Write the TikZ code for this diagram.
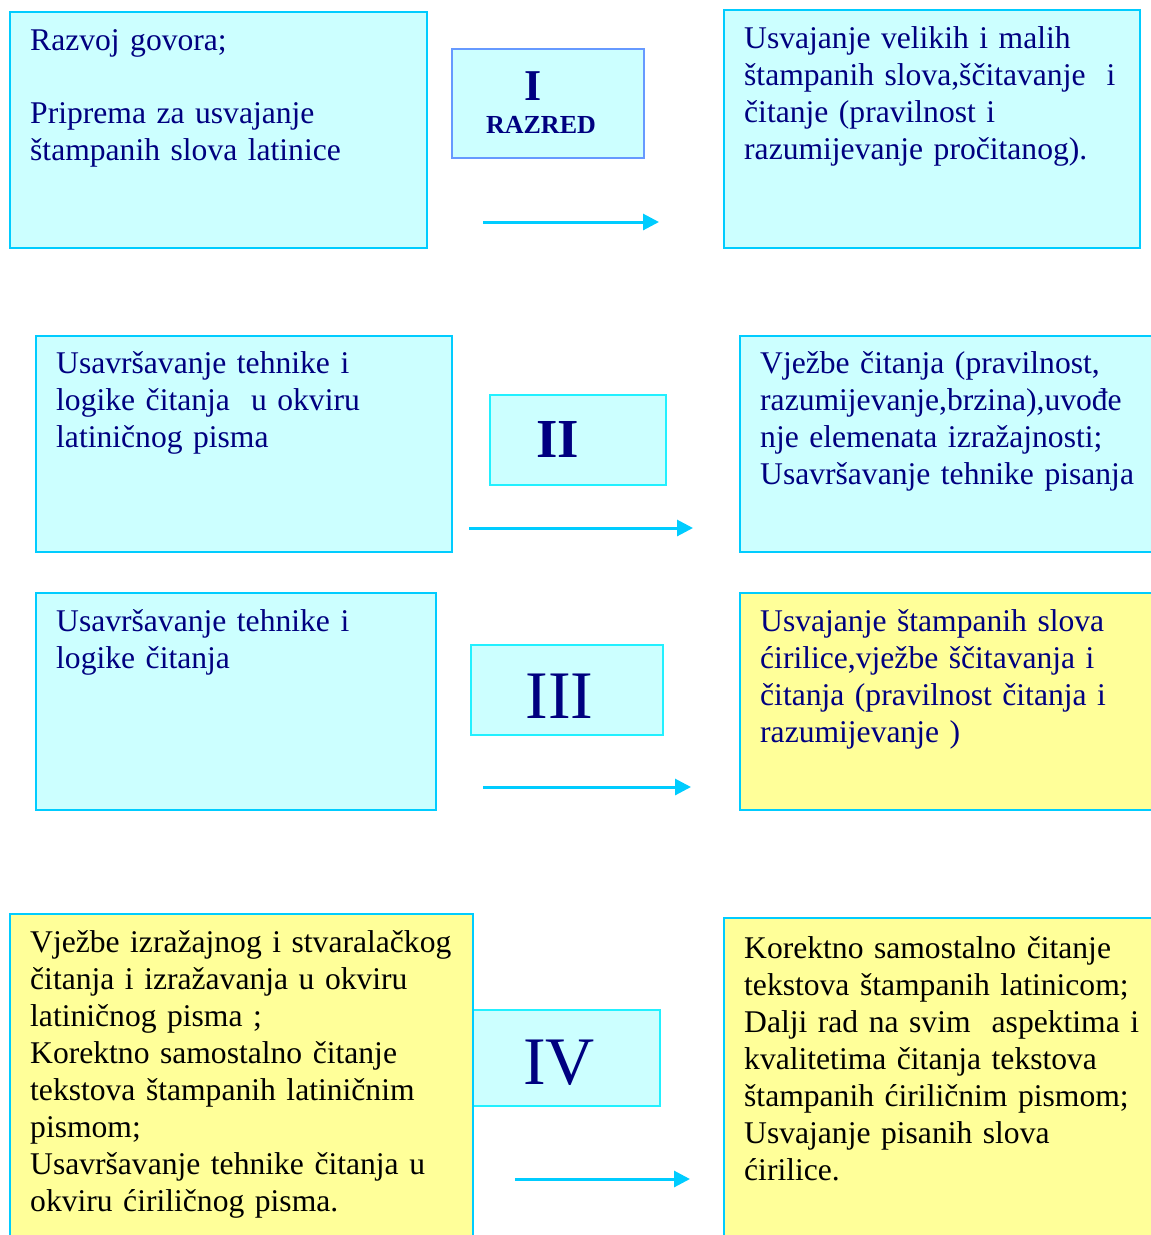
\documentclass[tikz,border=0pt]{standalone}
\usepackage{fontspec}
\setmainfont{Liberation Serif}
\usetikzlibrary{arrows.meta}
\definecolor{boxfill}{HTML}{CCFFFF}
\definecolor{yelfill}{HTML}{FFFF99}
\definecolor{bordc}{HTML}{00CCFF}
\definecolor{labbord}{HTML}{22F0FF}
\definecolor{ibord}{HTML}{6699FF}
\definecolor{navy}{HTML}{000080}
\definecolor{arrc}{HTML}{00CCFF}
\newcommand{\mystrut}{\rule{0pt}{26pt}}
\begin{document}
\begin{tikzpicture}[x=1pt,y=-1pt,
  bigbox/.style={draw=bordc, line width=2pt, inner sep=0pt, anchor=north west},
  cyanbox/.style={bigbox, fill=boxfill},
  yelbox/.style={bigbox, fill=yelfill},
  labbox/.style={draw=labbord, fill=boxfill, line width=2pt, inner sep=0pt, anchor=north west},
  body/.style={anchor=north west, inner sep=0pt, text width=440pt, align=left,
    font=\fontsize{31.6pt}{37pt}\selectfont},
  bignum/.style={anchor=base, inner sep=0pt, text=navy},
  arr/.style={draw=arrc, line width=3pt, -{Triangle[length=16pt,width=16pt]}}
]
\useasboundingbox (0,0) rectangle (1151,1235);
\clip (0,0) rectangle (1151,1235);

% Row I
\node[cyanbox, minimum width=417pt, minimum height=236pt] (b1) at (9,11) {};
\node[body, text=navy] (t1) at (30,24) {\mystrut Razvoj govora;\\[36pt]
Priprema za usvajanje\\
štampanih slova latinice};
\node[labbox, draw=ibord, minimum width=192pt, minimum height=109pt] (l1) at (451,48) {};
\node[bignum, font=\bfseries\fontsize{44pt}{44pt}\selectfont] (l1a) at (533,100) {I};
\node[bignum, font=\bfseries\fontsize{26pt}{26pt}\selectfont] (l1b) at (541,133) {RAZRED};
\node[cyanbox, minimum width=416pt, minimum height=238pt] (b2) at (723,9) {};
\node[body, text=navy] (t2) at (744,22) {\mystrut Usvajanje velikih i malih\\
štampanih slova,ščitavanje\ \ i\\
čitanje (pravilnost i\\
razumijevanje pročitanog).};
\coordinate (a1s) at (483,222);
\coordinate (a1e) at (659,222);
\draw[arr] (a1s) -- (a1e);

% Row II
\node[cyanbox, minimum width=416pt, minimum height=216pt] (b3) at (35,335) {};
\node[body, text=navy] (t3) at (56,347) {\mystrut Usavršavanje tehnike i\\
logike čitanja\ \ u okviru\\
latiničnog pisma};
\node[labbox, minimum width=176pt, minimum height=90pt] (l2) at (489,394) {};
\node[bignum, font=\bfseries\fontsize{55pt}{55pt}\selectfont] (l2a) at (557.5,457) {II};
\node[cyanbox, minimum width=440pt, minimum height=216pt] (b4) at (739,335) {};
\node[body, text=navy] (t4) at (760,347) {\mystrut Vježbe čitanja (pravilnost,\\
razumijevanje,brzina),uvođe\\
nje elemenata izražajnosti;\\
Usavršavanje tehnike pisanja};
\coordinate (a2s) at (469,528);
\coordinate (a2e) at (693,528);
\draw[arr] (a2s) -- (a2e);

% Row III
\node[cyanbox, minimum width=400pt, minimum height=217pt] (b5) at (35,592) {};
\node[body, text=navy] (t5) at (56,605) {\mystrut Usavršavanje tehnike i\\
logike čitanja};
\node[labbox, minimum width=192pt, minimum height=90pt] (l3) at (470,644) {};
\node[bignum, font=\fontsize{68pt}{68pt}\selectfont] (l3a) at (559.5,718) {III};
\node[yelbox, minimum width=440pt, minimum height=217pt] (b6) at (739,592) {};
\node[body, text=navy] (t6) at (760,605) {\mystrut Usvajanje štampanih slova\\
ćirilice,vježbe ščitavanja i\\
čitanja (pravilnost čitanja i\\
razumijevanje )};
\coordinate (a3s) at (483,787);
\coordinate (a3e) at (691,787);
\draw[arr] (a3s) -- (a3e);

% Row IV
\node[labbox, minimum width=187pt, minimum height=96pt] (l4) at (472,1009) {};
\node[bignum, font=\fontsize{68pt}{68pt}\selectfont] (l4a) at (559,1084) {IV};
\node[yelbox, minimum width=463pt, minimum height=360pt] (b7) at (9,913) {};
\node[body, text=black] (t7) at (30,926) {\mystrut Vježbe izražajnog i stvaralačkog\\
čitanja i izražavanja u okviru\\
latiničnog pisma ;\\
Korektno samostalno čitanje\\
tekstova štampanih latiničnim\\
pismom;\\
Usavršavanje tehnike čitanja u\\
okviru ćiriličnog pisma.};
\node[yelbox, minimum width=450pt, minimum height=360pt] (b8) at (723,917) {};
\node[body, text=black] (t8) at (744,932) {\mystrut Korektno samostalno čitanje\\
tekstova štampanih latinicom;\\
Dalji rad na svim\ \ aspektima i\\
kvalitetima čitanja tekstova\\
štampanih ćiriličnim pismom;\\
Usvajanje pisanih slova\\
ćirilice.};
\coordinate (a4s) at (515,1179);
\coordinate (a4e) at (690,1179);
\draw[arr] (a4s) -- (a4e);
\end{tikzpicture}
\end{document}
